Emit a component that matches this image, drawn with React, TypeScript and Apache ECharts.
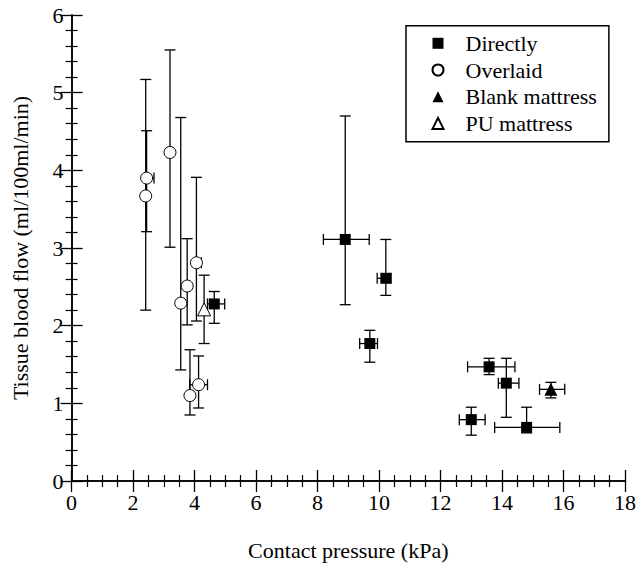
import React, { useEffect, useRef } from "react";
import * as echarts from "echarts";

// Directly
const directX = [4.64, 8.9, 10.22, 9.7, 13.58, 14.14, 13.0, 14.8];
const directY = [2.28, 3.11, 2.61, 1.77, 1.47, 1.26, 0.79, 0.69];
const directXLow = [4.42, 8.19, 9.94, 9.37, 12.88, 13.88, 12.61, 13.76];
const directXHigh = [4.98, 9.68, 10.39, 9.95, 14.42, 14.55, 13.45, 15.88];
const directYLow = [2.03, 2.27, 2.39, 1.53, 1.37, 0.82, 0.59, 0.62];
const directYHigh = [2.44, 4.7, 3.11, 1.94, 1.58, 1.58, 0.95, 0.95];

// Overlaid
const overX = [3.2, 2.44, 2.41, 4.06, 3.76, 3.55, 4.13, 3.85];
const overY = [4.23, 3.9, 3.67, 2.81, 2.51, 2.29, 1.24, 1.1];
const overXLow = [3.2, 2.44, 2.41, 4.06, 3.76, 3.55, 3.84, 3.85];
const overXHigh = [3.2, 2.68, 2.41, 4.22, 3.76, 3.55, 4.42, 3.85];
const overYLow = [3.01, 3.21, 2.2, 2.06, 2.01, 1.43, 0.94, 0.85];
const overYHigh = [5.55, 4.51, 5.17, 3.91, 3.12, 4.68, 1.61, 1.69];

// Blank mattress
const blankX = [15.59];
const blankY = [1.18];
const blankXLow = [15.22];
const blankXHigh = [16.04];
const blankYLow = [1.07];
const blankYHigh = [1.27];

// PU mattress
const puX = [4.31];
const puY = [2.21];
const puXLow = [4.31];
const puXHigh = [4.31];
const puYLow = [1.77];
const puYHigh = [2.65];

const seriesNames = ["Directly", "Overlaid", "Blank mattress", "PU mattress"];
const xTicks = { min: 0, max: 18, interval: 2 };
const yTicks = { min: 0, max: 6, interval: 1 };

const FONT = "Liberation Serif";

function pts(x: number[], y: number[]) {
  return x.map((v, i) => [v, y[i]]);
}
function errs(x: number[], y: number[], xl: number[], xh: number[], yl: number[], yh: number[]) {
  return x.map((v, i) => [v, y[i], xl[i], xh[i], yl[i], yh[i]]);
}

const CAP = 5.5;
const LS = { stroke: "#000", lineWidth: 1.3 };

function renderErr(params: any, api: any) {
  const x = api.value(0);
  const y = api.value(1);
  const xl = api.value(2);
  const xh = api.value(3);
  const yl = api.value(4);
  const yh = api.value(5);
  const children: any[] = [];
  const line = (x1: number, y1: number, x2: number, y2: number) =>
    children.push({ type: "line", shape: { x1, y1, x2, y2 }, style: LS });
  if (yl !== yh) {
    const a = api.coord([x, yh]);
    const b = api.coord([x, yl]);
    line(a[0], a[1], b[0], b[1]);
    if (yh !== y) line(a[0] - CAP, a[1], a[0] + CAP, a[1]);
    if (yl !== y) line(b[0] - CAP, b[1], b[0] + CAP, b[1]);
  }
  if (xl !== xh) {
    const a = api.coord([xl, y]);
    const b = api.coord([xh, y]);
    line(a[0], a[1], b[0], b[1]);
    if (xl !== x) line(a[0], a[1] - CAP, a[0], a[1] + CAP);
    if (xh !== x) line(b[0], b[1] - CAP, b[0], b[1] + CAP);
  }
  return { type: "group", children };
}

function errSeries(data: number[][]) {
  return {
    type: "custom",
    renderItem: renderErr,
    data,
    encode: { x: 0, y: 1 },
    z: 1,
    silent: true,
  };
}

export default function App() {
  const ref = useRef<HTMLDivElement>(null);
  useEffect(() => {
    if (!ref.current) return;
    const chart = echarts.init(ref.current, undefined, { renderer: "svg" });
    const axisLine = { show: true, lineStyle: { color: "#000", width: 1.5 } };
    const axisTick = { show: true, inside: true, length: 11, lineStyle: { color: "#000", width: 1.3 } };
    const labelStyle = { color: "#000", fontSize: 22, fontFamily: FONT };
    const xBase = {
      type: "value",
      ...xTicks,
      axisLine,
      axisTick,
      minorTick: { show: true, splitNumber: 4, length: 6, lineStyle: { color: "#000", width: 1.2 } },
      splitLine: { show: false },
      minorSplitLine: { show: false },
    };
    const yBase = {
      type: "value",
      ...yTicks,
      axisLine,
      axisTick,
      minorTick: { show: true, splitNumber: 5, length: 6, lineStyle: { color: "#000", width: 1.2 } },
      splitLine: { show: false },
      minorSplitLine: { show: false },
    };
    const open = { color: "#fff", borderColor: "#000", borderWidth: 1, opacity: 1 };
    const filled = { color: "#000", borderColor: "#000", borderWidth: 0, opacity: 1 };
    chart.setOption({
      animation: false,
      textStyle: { fontFamily: FONT },
      grid: { left: 71.6, right: 10.6, top: 15, bottom: 84.3 },
      xAxis: [
        {
          ...xBase,
          position: "bottom",
          axisLabel: { ...labelStyle, margin: 10 },
          name: "Contact pressure (kPa)",
          nameLocation: "middle",
          nameGap: 58,
          nameTextStyle: { ...labelStyle },
        },
        { ...xBase, position: "top", axisLabel: { show: false } },
      ],
      yAxis: [
        {
          ...yBase,
          position: "left",
          axisLabel: { ...labelStyle, margin: 8 },
          name: "Tissue blood flow (ml/100ml/min)",
          nameLocation: "middle",
          nameGap: 40,
          nameTextStyle: { ...labelStyle },
        },
        { ...yBase, position: "right", axisLabel: { show: false } },
      ],
      legend: {
        data: seriesNames,
        orient: "vertical",
        left: 406,
        top: 25.7,
        padding: [6.6, 12, 7.4, 25.5],
        itemWidth: 11,
        itemHeight: 11,
        itemGap: 4.7,
        borderColor: "#000",
        borderWidth: 1.5,
        textStyle: { ...labelStyle, padding: [0, 0, 0, 17], lineHeight: 22 },
      },
      series: [
        errSeries(errs(directX, directY, directXLow, directXHigh, directYLow, directYHigh)),
        errSeries(errs(overX, overY, overXLow, overXHigh, overYLow, overYHigh)),
        errSeries(errs(blankX, blankY, blankXLow, blankXHigh, blankYLow, blankYHigh)),
        errSeries(errs(puX, puY, puXLow, puXHigh, puYLow, puYHigh)),
        {
          name: "Directly",
          type: "scatter",
          symbol: "rect",
          symbolSize: 11,
          data: pts(directX, directY),
          itemStyle: filled,
          z: 3,
        },
        {
          name: "Overlaid",
          type: "scatter",
          symbol: "circle",
          symbolSize: 12,
          data: pts(overX, overY),
          itemStyle: open,
          z: 3,
        },
        {
          name: "Blank mattress",
          type: "scatter",
          symbol: "triangle",
          symbolSize: 13,
          data: pts(blankX, blankY),
          itemStyle: filled,
          z: 3,
        },
        {
          name: "PU mattress",
          type: "scatter",
          symbol: "triangle",
          symbolSize: 13,
          data: pts(puX, puY),
          itemStyle: open,
          z: 3,
        },
      ],
    });
    return () => chart.dispose();
  }, []);
  return (
    <div
      ref={ref}
      style={{ position: "fixed", left: 0, top: 0, width: 639, height: 566, background: "#fff" }}
    />
  );
}
